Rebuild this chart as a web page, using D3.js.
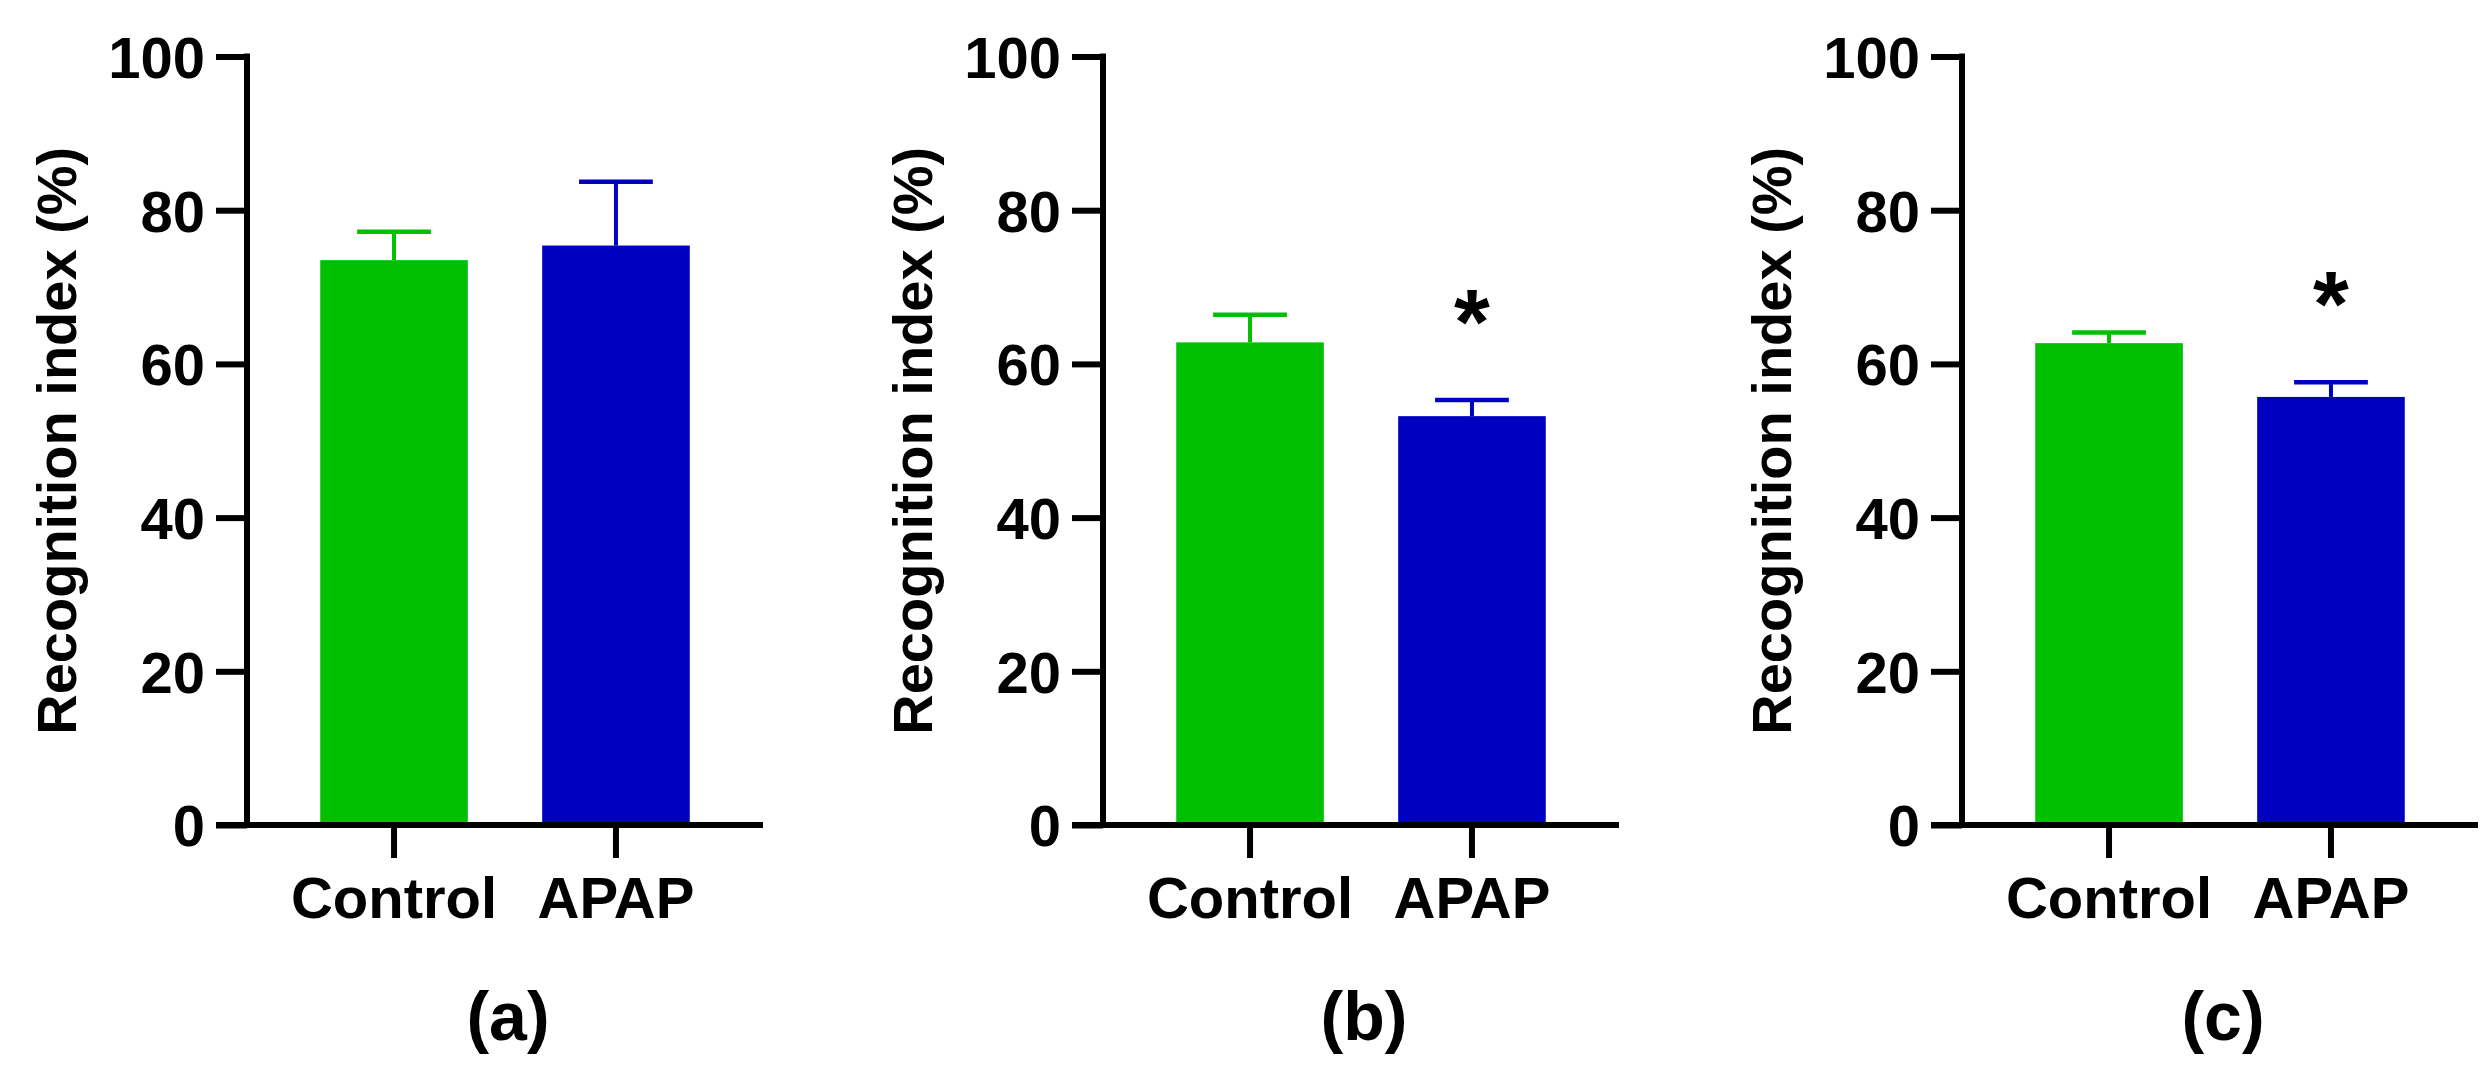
<!DOCTYPE html>
<html>
<head>
<meta charset="utf-8">
<script src="https://cdn.jsdelivr.net/npm/d3@7"></script>
<style>
  html, body { margin: 0; padding: 0; background: #fff; }
  svg { display: block; }
  text { font-family: "Liberation Sans", Arial, sans-serif; font-weight: bold; fill: #000; }
</style>
</head>
<body>
<svg id="chart" width="2488" height="1080"></svg>
<script>
// ---- data ----
const categories = ["Control", "APAP"];
const panelLabels = ["(a)", "(b)", "(c)"];
const yTicks = [0, 20, 40, 60, 80, 100];
const yTitle = "Recognition index (%)";
const meansA = [73.5, 75.4];
const semA   = [3.7, 8.3];
const meansB = [62.8, 53.2];
const semB   = [3.6, 2.1];
const meansC = [62.7, 55.7];
const semC   = [1.4, 1.9];
const sigA = [false, false];
const sigB = [false, true];
const sigC = [false, true];
const barColors = ["#00C000", "#0000C0"];

const panels = [
  { label: panelLabels[0], means: meansA, sem: semA, sig: sigA },
  { label: panelLabels[1], means: meansB, sem: semB, sig: sigB },
  { label: panelLabels[2], means: meansC, sem: semC, sig: sigC }
];

// ---- layout ----
const axisX = [247, 1103, 1962];
const plotW = 516;
const yTop = 56.5, yBottom = 825;
const axisW = 6;

const svg = d3.select("#chart");
const y = d3.scaleLinear().domain([0, 100]).range([yBottom, yTop]);

panels.forEach((p, i) => {
  const g = svg.append("g").attr("transform", `translate(${axisX[i]},0)`);
  const x = d3.scaleBand().domain(categories).range([0, plotW])
    .paddingInner(0.335).paddingOuter(0.33);

  // bars
  g.selectAll("rect.bar").data(categories).join("rect")
    .attr("class", "bar")
    .attr("x", d => x(d))
    .attr("width", x.bandwidth())
    .attr("y", (d, j) => y(p.means[j]))
    .attr("height", (d, j) => y(0) - y(p.means[j]))
    .attr("fill", (d, j) => barColors[j]);

  // error bars (upper only)
  const capW = x.bandwidth() / 2;
  categories.forEach((c, j) => {
    const cx = x(c) + x.bandwidth() / 2;
    const top = y(p.means[j] + p.sem[j]);
    g.append("line")
      .attr("x1", cx).attr("x2", cx)
      .attr("y1", y(p.means[j])).attr("y2", top)
      .attr("stroke", barColors[j]).attr("stroke-width", 4);
    g.append("line")
      .attr("x1", cx - capW / 2).attr("x2", cx + capW / 2)
      .attr("y1", top).attr("y2", top)
      .attr("stroke", barColors[j]).attr("stroke-width", 4.5);
    if (p.sig[j]) {
      g.append("text")
        .attr("x", cx).attr("y", top - 46)
        .attr("text-anchor", "middle")
        .attr("font-size", 92)
        .text("*");
    }
  });

  // y axis
  const yAxis = d3.axisLeft(y).tickValues(yTicks).tickSize(31).tickSizeOuter(0).tickPadding(11);
  const ya = g.append("g").call(yAxis);
  ya.select(".domain").remove();
  ya.selectAll(".tick line").attr("stroke", "#000").attr("stroke-width", axisW);
  ya.selectAll(".tick text").attr("font-size", 58).attr("font-family", "Liberation Sans, Arial, sans-serif")
    .attr("font-weight", "bold").attr("dy", "0.36em");
  g.append("line")
    .attr("x1", 0).attr("x2", 0)
    .attr("y1", y(100) - axisW / 2).attr("y2", y(0) + axisW / 2)
    .attr("stroke", "#000").attr("stroke-width", axisW);

  // x axis
  const xAxis = d3.axisBottom(x).tickSize(33).tickSizeOuter(0).tickPadding(18);
  const xa = g.append("g").attr("transform", `translate(0,${y(0)})`).call(xAxis);
  xa.select(".domain").remove();
  xa.selectAll(".tick line").attr("stroke", "#000").attr("stroke-width", axisW);
  xa.selectAll(".tick text").attr("font-size", 58).attr("font-family", "Liberation Sans, Arial, sans-serif")
    .attr("font-weight", "bold").attr("dy", null).attr("y", 0)
    .attr("transform", "translate(0,93)");
  g.append("line")
    .attr("x1", -31).attr("x2", plotW)
    .attr("y1", y(0)).attr("y2", y(0))
    .attr("stroke", "#000").attr("stroke-width", axisW);

  // y title
  g.append("text")
    .attr("transform", `translate(-171,${(y(0) + y(100)) / 2}) rotate(-90)`)
    .attr("text-anchor", "middle")
    .attr("font-size", 56)
    .text(yTitle);

  // panel label
  g.append("text")
    .attr("x", plotW / 2 + 3).attr("y", 1040)
    .attr("text-anchor", "middle")
    .attr("font-size", 68)
    .text(p.label);
});
</script>
</body>
</html>
